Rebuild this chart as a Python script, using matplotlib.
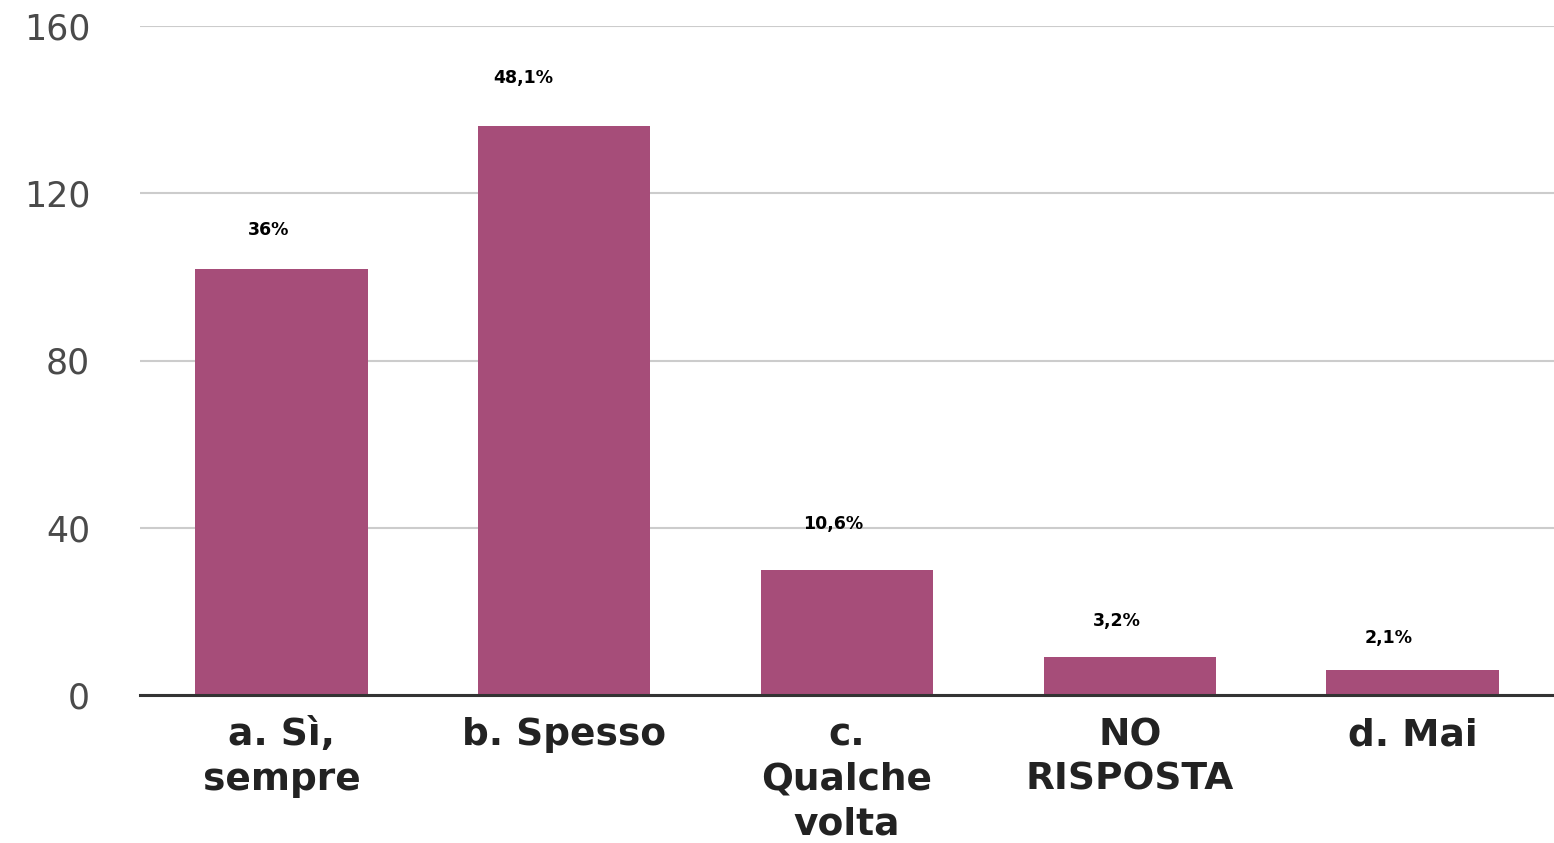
import matplotlib
matplotlib.use("Agg")
import matplotlib.pyplot as plt

# data
categories = ["a. Sì,\nsempre", "b. Spesso", "c.\nQualche\nvolta", "NO\nRISPOSTA", "d. Mai"]
counts = [102, 136, 30, 9, 6]
pct_labels = ["36%", "48,1%", "10,6%", "3,2%", "2,1%"]
y_ticks = [0, 40, 80, 120, 160]

bar_color = "#A64D79"

fig = plt.figure(figsize=(15.54, 8.43), dpi=100)
ax = fig.add_axes([140 / 1554, 148 / 843, 1 - 140 / 1554, (695 - 26) / 843])

x = list(range(len(categories)))
ax.bar(x, counts, width=0.61, color=bar_color, zorder=3)

# the labels in the original are not all centred the same way (pixel offsets)
lab_off = [(-13, 39), (-41, 48), (-14, 46), (-13, 36), (-24, 32)]
for xi, c, lab, (dx, dy) in zip(x, counts, pct_labels, lab_off):
    ax.annotate(lab, (xi, c), xytext=(dx * 0.72, dy * 0.72), textcoords="offset points",
                ha="center", va="center", fontsize=12.5, fontweight="bold",
                family="DejaVu Sans", color="black")

ax.set_xlim(-0.5, len(categories) - 0.5)
ax.set_ylim(0, 160)
ax.set_yticks(y_ticks)
ax.set_yticklabels([str(t) for t in y_ticks], fontsize=25, color="#4a4a4a",
                   family="DejaVu Sans")
ax.set_xticks(x)
ax.set_xticklabels(categories, fontsize=27, fontweight="bold", color="#222222",
                   family="DejaVu Sans", linespacing=1.3, va="top")

ax.tick_params(axis="both", length=0)
ax.tick_params(axis="y", pad=36)
ax.tick_params(axis="x", pad=16)

ax.grid(axis="y", color="#cccccc", linewidth=1.5, zorder=0)
for s in ["top", "right", "left"]:
    ax.spines[s].set_visible(False)
ax.spines["bottom"].set_color("#333333")
ax.spines["bottom"].set_linewidth(2.2)
ax.spines["bottom"].set_zorder(4)

fig.savefig("out.png", dpi=100)
